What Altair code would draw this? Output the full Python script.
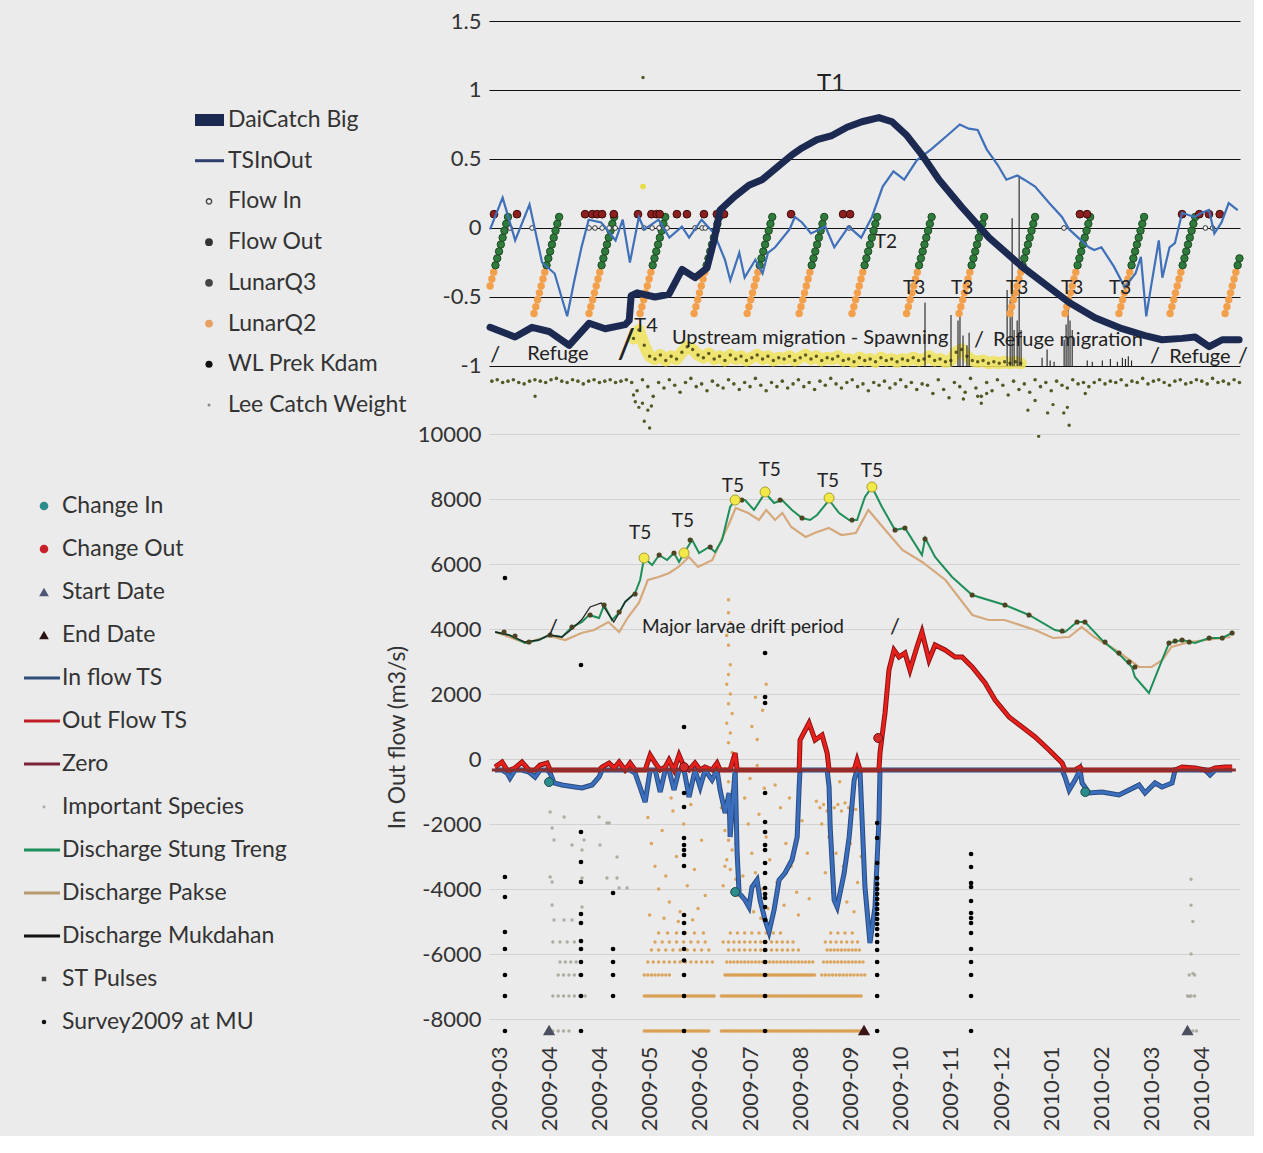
import altair as alt
import pandas as pd

# ---------------------------------------------------------------- data
# x positions are given in days counted from 2009-03-02
BASE = pd.Timestamp("2009-03-02")
tick_dates = ["2009-03-05", "2009-04-02", "2009-04-30", "2009-05-28", "2009-06-25",
              "2009-07-23", "2009-08-20", "2009-09-17", "2009-10-15", "2009-11-12",
              "2009-12-10", "2010-01-07", "2010-02-04", "2010-03-04", "2010-04-01"]
x_domain_days = [-2.6, 416.3]
top_y_ticks = [-1, -0.5, 0, 0.5, 1, 1.5]
top_y_domain = [-1.464, 1.5]
bot_y_ticks = [-8000, -6000, -4000, -2000, 0, 2000, 4000, 6000, 8000, 10000]
bot_y_domain = [-8646, 10000]

# ---- top panel series
dai_days = [-2.0, 11.9, 21.4, 30.9, 42.1, 53.3, 62.2, 73.4, 75.6, 76.7, 80.0, 90.0, 97.8, 105.1, 112.3,
            119.0, 122.9, 126.3, 134.6, 142.4, 149.7, 158.1, 166.4, 172.0, 180.4, 188.7, 197.1, 205.4,
            214.9, 222.2, 230.5, 238.9, 248.4, 261.2, 276.3, 294.7, 309.8, 321.0, 335.4, 350.5, 363.3,
            372.8, 384.0, 391.2, 399.1, 406.4, 415.8]
dai_vals = [-0.72, -0.79, -0.72, -0.75, -0.85, -0.69, -0.73, -0.70, -0.67, -0.49, -0.47, -0.50, -0.48,
            -0.30, -0.36, -0.29, -0.09, 0.13, 0.23, 0.31, 0.35, 0.44, 0.53, 0.58, 0.64, 0.67, 0.73, 0.77,
            0.80, 0.77, 0.67, 0.53, 0.35, 0.15, -0.07, -0.28, -0.43, -0.54, -0.65, -0.73, -0.78, -0.81,
            -0.80, -0.79, -0.86, -0.81, -0.81]

ts_days = [-2, 5, 12, 20, 27, 34, 41, 45, 49, 53, 60, 68, 72, 76, 81, 84, 92, 98, 105, 109, 116, 123,
           129, 132, 137, 140, 146, 150, 153, 157, 165, 168, 172, 177, 185, 190, 198, 205, 211, 217, 223,
           229, 236, 244, 253, 260, 265, 270, 275, 281, 286, 292, 296, 302, 310, 317, 321, 326, 332, 335,
           339, 346, 352, 358, 361, 364, 367, 371, 373, 377, 380, 384, 391, 395, 399, 402, 406, 410, 415]
ts_vals = [-0.01, 0.22, -0.09, 0.17, -0.25, -0.33, -0.64, -0.38, -0.14, 0.06, 0.04, -0.09, 0.06, -0.25,
           0.08, -0.01, 0.06, -0.07, 0.01, -0.07, 0.06, -0.04, -0.23, -0.38, -0.18, -0.36, -0.23, -0.33,
           -0.18, -0.14, -0.01, 0.08, 0.04, -0.04, 0.01, -0.14, 0.01, -0.07, 0.08, 0.30, 0.41, 0.35, 0.49,
           0.57, 0.67, 0.75, 0.72, 0.71, 0.57, 0.46, 0.35, 0.38, 0.35, 0.30, 0.18, 0.08, -0.01, -0.07,
           -0.14, -0.16, -0.14, -0.28, -0.43, -0.33, -0.21, -0.64, -0.40, -0.09, -0.36, -0.14, -0.11, 0.11,
           0.08, 0.11, 0.13, -0.04, 0.04, 0.18, 0.13]

flow_in_days = [9.2, 21.4, 53.2, 56.5, 60.5, 64.4, 67.8, 83.9, 88.4, 92.3, 96.7, 112.3, 116.3, 118.0,
                198.3, 318.1, 397.0, 401.0]
flow_in_vals = [0.0, 0.0, 0.0, 0.0, 0.0, 0.0, 0.0, 0.0, 0.0, 0.0, 0.0, 0.0, 0.0, 0.0, 0.0, 0.0, 0.0, 0.0]

flow_out_days = [0.2, 13.0, 51.0, 55.0, 57.7, 60.5, 67.0, 80.5, 88.0, 90.9, 92.6, 102.2, 107.8, 117.3,
                 124.5, 128.5, 165.9, 194.9, 198.8, 327.0, 331.0, 384.0, 393.6, 399.0, 405.0]
flow_out_vals = [0.10, 0.10, 0.10, 0.10, 0.10, 0.10, 0.10, 0.10, 0.10, 0.10, 0.10, 0.10, 0.10, 0.10,
                 0.10, 0.10, 0.10, 0.10, 0.10, 0.10, 0.10, 0.10, 0.10, 0.10, 0.10]

# lunar quarters: first day of each rising chain, and the values read along one chain
lunar_chain_start = [-6.0, 22.5, 53.2, 81.7, 111.8, 141.4, 170.4, 199.9, 230.3, 259.6, 288.0, 318.7,
                     348.8, 377.3, 408.0]
lunar_q2_chain = [-0.62, -0.57, -0.52, -0.47, -0.42, -0.37, -0.32]
lunar_q3_chain = [-0.27, -0.22, -0.17, -0.12, -0.07, -0.02, 0.03, 0.08]

lee_days = list(range(78, 295, 3))
lee_vals = [-0.80, -0.74, -0.85, -0.93, -0.95, -0.92, -0.96, -0.93, -0.95, -0.90,
            -0.86, -0.88, -0.92, -0.94, -0.91, -0.95, -0.93, -0.96, -0.92, -0.95,
            -0.93, -0.96, -0.94, -0.92, -0.95, -0.93, -0.96, -0.94, -0.95, -0.93,
            -0.96, -0.94, -0.92, -0.95, -0.93, -0.96, -0.94, -0.95, -0.93, -0.96,
            -0.95, -0.97, -0.94, -0.96, -0.95, -0.97, -0.94, -0.96, -0.95, -0.97,
            -0.95, -0.96, -0.94, -0.96, -0.95, -0.93, -0.96, -0.95, -0.97, -0.96,
            -0.90, -0.88, -0.93, -0.96, -0.97, -0.96, -0.98, -0.97, -0.98, -0.97,
            -0.98, -0.97, -0.98]

wl_days = list(range(-1, 417, 3))
wl_vals = [-1.11, -1.10, -1.12, -1.11, -1.10, -1.12, -1.13, -1.11, -1.10, -1.11, -1.12, -1.10, -1.09,
           -1.11, -1.12, -1.10, -1.11, -1.13, -1.11, -1.10, -1.12, -1.11, -1.10, -1.12, -1.11, -1.10,
           -1.12, -1.18, -1.10, -1.15, -1.22, -1.12, -1.16, -1.10, -1.14, -1.19, -1.12, -1.09, -1.15,
           -1.13, -1.18, -1.11, -1.14, -1.16, -1.10, -1.13, -1.17, -1.12, -1.15, -1.09, -1.14, -1.18,
           -1.12, -1.15, -1.11, -1.16, -1.13, -1.10, -1.15, -1.12, -1.17, -1.11, -1.14, -1.09, -1.13,
           -1.16, -1.12, -1.10, -1.15, -1.13, -1.18, -1.12, -1.14, -1.11, -1.16, -1.13, -1.10, -1.15,
           -1.12, -1.17, -1.13,
           -1.14, -1.20, -1.10, -1.17, -1.23, -1.12, -1.15, -1.19, -1.09, -1.16, -1.22, -1.12, -1.18,
           -1.10, -1.14, -1.21, -1.11, -1.17, -1.13, -1.19, -1.10, -1.15, -1.12, -1.18, -1.11, -1.14,
           -1.16, -1.10, -1.13, -1.12, -1.15,
           -1.12, -1.10, -1.13, -1.11, -1.12, -1.10, -1.14, -1.11, -1.12, -1.09, -1.13, -1.11, -1.10,
           -1.12, -1.14, -1.11, -1.10, -1.13, -1.12, -1.10, -1.11, -1.13, -1.09, -1.12, -1.11, -1.13,
           -1.10, -1.12]
wl_extra_days = [23.1, 78, 79, 81, 83, 86, 88, 84, 87, 262, 270, 272, 275, 298, 302, 309, 312, 318, 320,
                 304, 321, 330, 83.3]
wl_extra_vals = [-1.22, -1.21, -1.26, -1.30, -1.27, -1.32, -1.29, -1.40, -1.45, -1.24, -1.22, -1.27,
                 -1.20, -1.32, -1.25, -1.34, -1.28, -1.34, -1.30, -1.51, -1.43, -1.20, 1.09]
lee_extra_days = [83.3]
lee_extra_vals = [0.30]

spike_days = [240.6, 255.1, 259.0, 260.1, 261.8, 264.0, 265.2, 286.4, 288.1, 289.2, 290.3, 292.0, 293.1,
              294.2, 305.9, 308.7, 310.4, 312.6, 318.2, 319.3, 320.4, 321.5, 322.7, 331.1, 333.9, 339.5,
              344.0, 347.9, 350.7, 352.4, 354.0, 355.8]
spike_tops = [-0.54, -0.63, -0.67, -0.63, -0.78, -0.85, -0.76, -0.45, -0.52, 0.07, -0.74, -0.67, 0.38,
              -0.74, -0.94, -0.88, -0.96, -0.97, -0.81, -0.70, -0.59, -0.67, -0.74, -0.96, -0.97, -0.96,
              -0.95, -0.97, -0.94, -0.95, -0.93, -0.96]
spike_base = -1.0

top_text = ["T1", "T2", "T3", "T3", "T3", "T3", "T3", "T4", "Refuge", "Upstream migration - Spawning",
            "Refuge migration", "Refuge", "/", "/", "/", "/", "/"]
top_text_days = [188.2, 218.8, 234.5, 261.3, 292.0, 322.7, 349.5, 85.0, 35.9, 176.5, 320.3, 394.0,
                 0.8, 270.7, 368.9, 418.0, 74.0]
top_text_vals = [1.043, -0.10, -0.435, -0.435, -0.435, -0.435, -0.435, -0.71, -0.913, -0.797, -0.81,
                 -0.935, -0.92, -0.81, -0.93, -0.93, -0.855]
top_text_size = [24, 19, 19, 19, 19, 19, 19, 20, 20, 20, 20, 20, 22, 22, 22, 22, 40]

# ---- bottom panel series
stung_days = [0.8, 8.6, 17.5, 25.3, 30.9, 38.1, 43.7, 49.3, 53.2, 58.8, 61.6, 66.0, 69.9, 73.3, 78.9,
              81.7, 83.9, 88.4, 92.3, 96.7, 100.6, 103.4, 106.2, 110.7, 114.6, 120.2, 123.5, 127.4, 131.9,
              134.7, 140.2, 145.2, 151.4, 156.4, 160.8, 166.4, 172.0, 176.5, 180.4, 187.1, 192.7, 198.3,
              202.7, 207.1, 211.0, 216.6, 223.9, 229.4, 238.9, 240.7, 246.2, 255.7, 266.9, 285.2, 298.6,
              313.1, 318.7, 325.4, 329.8, 339.3, 350.5, 356.0, 357.7, 365.5, 372.8, 376.7, 384.0, 391.2,
              399.1, 406.4, 411.9]
stung_vals = [3908, 3815, 3569, 3662, 3815, 3754, 4062, 4215, 4431, 4338, 4738, 4277, 4492, 4831, 5108,
              5508, 6185, 5969, 6277, 6123, 6338, 6062, 6338, 6738, 6338, 6523, 6369, 6738, 7754, 7969,
              7969, 7662, 8185, 7877, 7969, 7662, 7415, 7354, 7508, 7969, 7569, 7354, 7354, 8062, 8369,
              7754, 7046, 7108, 6277, 6800, 6215, 5600, 5046, 4738, 4431, 3969, 3908, 4215, 4215, 3662,
              3138, 2831, 2523, 2031, 3046, 3569, 3662, 3569, 3723, 3723, 3877]

pakse_days = [1, 18, 31, 40, 49, 56, 64, 70, 75, 81, 86, 92, 98, 103, 109, 114, 122, 127, 131, 135, 142,
              148, 152, 157, 161, 166, 174, 179, 187, 194, 202, 209, 217, 228, 239, 252, 267, 276, 285,
              302, 312, 321, 328, 335, 347, 360, 367, 373, 378, 388, 411]
pakse_vals = [3908, 3569, 3785, 3662, 3877, 3969, 4215, 3908, 4369, 4800, 5508, 5600, 5723, 5908, 6215,
              5908, 6123, 6738, 7200, 7723, 7569, 7354, 7662, 7354, 7569, 7138, 6831, 6954, 7108, 6892,
              6954, 7662, 7138, 6431, 6062, 5508, 4431, 4277, 4277, 3969, 3723, 3754, 4062, 3754, 3354,
              2831, 2831, 3046, 3446, 3600, 3754]

muk_days = [0.8, 8.6, 17.5, 25.3, 30.9, 38.1, 43.7, 49.3, 53.8, 60.0, 63.0, 67.0, 70.0, 73.3, 78.9]
muk_vals = [3908, 3815, 3600, 3662, 3815, 3754, 4000, 4300, 4677, 4800, 4550, 4215, 4492, 4831, 5108]

pulse_days = [5.8, 11.9, 19.7, 31.5, 43.7, 53.8, 61.6, 70.0, 78.9, 92.3, 100.6, 109.6, 120.8, 138.4,
              159.8, 172.0, 199.9, 223.9, 229.4, 240.6, 266.9, 285.2, 298.6, 317.1, 325.4, 329.8, 341.0,
              348.8, 354.4, 357.7, 376.7, 380.1, 384.0, 388.0, 399.1, 406.4, 411.9]
pulse_vals = [3908, 3785, 3600, 3815, 4062, 4431, 4738, 4523, 5077, 6277, 6338, 6738, 6523, 7969, 7969,
              7415, 7354, 7046, 7108, 6769, 5046, 4738, 4431, 3938, 4215, 4215, 3600, 3262, 2985, 2831,
              3569, 3631, 3662, 3600, 3723, 3723, 3877]

t5_days = [83.9, 106.2, 134.7, 151.4, 187.1, 211.0]
t5_vals = [6185, 6338, 7969, 8215, 8031, 8369]

net_days = [0.8, 4.7, 7.5, 9.1, 11.9, 15.8, 19.7, 23.1, 25.9, 29.8, 31.5, 33.7, 38.1, 45.4, 49.3, 54.9,
            58.8, 60.5, 64.4, 67.2, 70.0, 73.3, 76.1, 78.9, 84.5, 87.3, 90.1, 92.9, 95.7, 97.8, 100.6,
            103.4, 106.2, 109.0, 112.3, 115.2, 117.9, 121.8, 124.6, 126.3, 129.1, 131.3, 131.9, 134.7,
            135.8, 136.9, 140.2, 142.4, 144.1, 146.9, 148.6, 151.4, 153.6, 156.4, 159.2, 162.5, 166.4,
            169.3, 170.4, 170.9, 175.9, 179.3, 183.2, 186.0, 187.1, 187.7, 189.9, 191.6, 195.5, 198.3,
            201.1, 202.7, 204.4, 207.1, 209.9, 212.7, 214.9, 215.5, 216.6, 218.3, 220.5, 223.3, 226.1,
            229.4, 232.2, 236.1, 238.9, 242.8, 246.2, 251.8, 257.4, 261.3, 266.9, 274.1, 279.7, 287.5,
            294.8, 302.0, 309.8, 317.1, 318.7, 321.0, 324.3, 327.1, 328.2, 332.1, 339.3, 348.8, 354.4,
            360.0, 363.3, 368.9, 372.8, 378.4, 380.1, 384.0, 391.2, 396.8, 399.6, 402.4, 408.0, 411.9]
net_vals = [-246, -92, -431, -585, -277, -92, -400, -554, -185, -123, -431, -738, -800, -862, -892, -800,
            -554, -246, -123, -277, -92, -338, -123, -431, -1323, 123, -123, -1015, -246, -31, -954, 123,
            -246, -1169, -123, -862, -246, -646, -123, -954, -1662, -1046, -2400, 185, -2892, -4123,
            -4338, -4554, -3938, -3723, -4338, -4954, -5323, -4646, -3723, -3508, -3108, -2400, -862,
            585, 1108, 585, 738, 185, -862, -2092, -4338, -4554, -3508, -2400, -646, -31, -431, -3938,
            -5662, -4554, -1877, 185, 677, 1415, 2738, 3354, 3138, 3262, 2738, 3446, 3908, 3046, 3508,
            3354, 3138, 3138, 2831, 2338, 1815, 1292, 985, 677, 277, -123, -554, -954, -646, -246, -738,
            -1046, -1015, -1108, -954, -800, -1046, -738, -862, -738, -338, -246, -277, -338, -492, -277,
            -246, -246]
zero_level = -338
zero_days = [-1.0, 414.0]

change_in_days = [30.9, 134.7, 330.0]
change_in_vals = [-708, -4092, -1015]
change_out_days = [106.2, 214.5]
change_out_vals = [-246, 646]
start_days = [30.9, 387.0]
start_vals = [-8338, -8338]
end_days = [206.6]
end_vals = [-8338]

survey_col_days = [6.3, 48.7, 66.6, 106.2, 151.4, 213.9, 266.3]
survey_col_vals = [
    [5569, -3631, -4246, -5323, -5846, -6646, -7292, -8369],
    [2892, -2246, -3169, -3785, -4769, -5046, -5600, -5846, -6246, -6646, -7292, -8369],
    [-4123, -5846, -6246, -6646, -7292],
    [985, -1046, -1477, -2431, -2646, -2800, -2954, -3292, -4800, -5046, -5354, -5846, -6200, -6646,
     -7292, -8369],
    [3262, 1908, 1723, -1046, -1938, -2246, -2646, -2800, -3200, -3508, -3969, -4154, -4277, -4554,
     -4954, -5631, -5877, -6246, -6646, -7292, -8369],
    [-1969, -2431, -3200, -3661, -3846, -4000, -4154, -4308, -4462, -4615, -4769, -4923, -5077, -5231,
     -5415, -5631, -5877, -6246, -6646, -7292, -8369],
    [-2923, -3323, -3815, -3938, -4369, -4738, -4892, -5046, -5354, -5846, -6246, -6646, -7292, -8369]]

# important species: horizontal runs of dots (level, first day, last day, day step) + scattered dots
imp_run_vals = [-8369, -8369, -7292, -7292, -6646, -6646, -6646, -6246, -6246, -6246, -5877, -5877,
                -5877, -5631, -5631, -5631, -5354, -5354, -5354, -8369, -7292, -6646, -6246, -5631,
                -8369, -7292, -6646]
imp_run_start = [84, 127, 84, 127, 84, 129, 183, 86, 130, 184, 88, 131, 186, 90, 128, 185, 92, 132, 188,
                 33, 33, 36, 37, 33, 388, 387, 388]
imp_run_end = [120, 205, 123, 205, 98, 179, 207, 124, 178, 206, 122, 170, 205, 120, 168, 204, 118, 160,
               202, 42, 53, 49, 47, 50, 392, 392, 391]
imp_run_step = [1, 1, 1, 1, 2, 1, 2, 3, 2, 2, 4, 3, 2, 4, 3, 3, 5, 4, 4, 3, 3, 3, 3, 4, 2, 2, 3]
imp_days = [31.5, 32.6, 33.7, 39.3, 43.7, 49.3, 50.4, 58.8, 59.3, 63.2, 64.4, 68.8, 70.0, 74.4, 31.5,
            32.6, 49.3, 63.2, 68.8, 32.6, 49.3, 33.7, 39.3, 43.7,
            86, 88, 90, 92, 94, 96, 98, 100, 102, 104, 106, 108, 110, 112, 114, 116, 118, 87, 95, 103, 111,
            99,
            131, 131, 132, 130, 131, 132, 131, 130, 132, 131, 133, 130, 132, 131, 133, 129, 131, 133, 130,
            132, 134, 129, 131, 133, 130, 132, 135, 128, 136, 134, 127, 135, 129,
            140, 142, 144, 146, 148, 150, 152, 154, 141, 145, 149, 153, 143, 147, 151, 139, 146, 150, 152,
            144, 147,
            157, 160, 163, 166, 169, 172, 175, 158, 162, 170, 176, 165,
            180, 182, 184, 186, 188, 190, 192, 194, 196, 198, 200, 202, 183, 187, 191, 195, 199, 203, 185,
            189, 197, 201, 205, 193, 200, 204,
            389, 389, 390, 389, 390, 388]
imp_vals = [-1630, -2120, -2490, -1785, -2646, -2800, -2490, -1785, -2646, -1970, -1970, -3015, -3970,
            -3970, -3630, -3785, -3662, -3662, -3662, -4492, -4554, -4954, -4954, -4954,
            -1800, -2600, -3300, -4000, -2200, -3600, -4400, -1600, -3000, -4700, -2000, -3900, -1400,
            -3400, -4600, -2500, -4200, -4800, -4900, -5000, -4950, -1200,
            4900, 4500, 4200, 3800, 3500, 2900, 2600, 2300, 2000, 1700, 1400, 1100, 800, 500, 200, -300,
            -700, -1000, -1300, -1600, -1900, -2200, -2500, -2800, -3100, -3400, -3700, -3900, -4200,
            -600, -1500, -2600, -3300,
            -1200, -2000, -2900, -3500, -1700, -4000, -2400, -3100, -4400, -4700, -4900, -4600, -600,
            -200, -900, -3600, 1900, 1500, 2300, 1000, 600,
            -800, -1500, -2600, -3300, -4100, -1900, -2900, -3800, -4500, -4800, -4300, -1200,
            -1300, -1500, -1400, -1600, -1300, -1500, -1400, -1600, -1350, -1500, -1450, -1550, -2000,
            -2400, -2900, -3300, -2600, -3800, -3500, -4100, -4400, -4700, -3000, -700, -300, -800,
            -3700, -4500, -5000, -6000, -6600, -7300]

bot_text = ["T5", "T5", "T5", "T5", "T5", "T5", "Major larvae drift period", "/", "/"]
bot_text_days = [81.7, 105.5, 133.4, 154.0, 186.5, 211.0, 139.1, 33.1, 223.9]
bot_text_vals = [6954, 7323, 8400, 8892, 8554, 8862, 4062, 4031, 4062]
bot_text_size = [19, 19, 19, 19, 19, 19, 19, 22, 22]

# ---- legends
top_legend = ["DaiCatch Big", "TSInOut", "Flow In", "Flow Out", "LunarQ3", "LunarQ2", "WL Prek Kdam",
              "Lee Catch Weight"]
top_legend_kind = ["bar", "line", "open", "dot", "dot", "dot", "dot", "dot"]
top_legend_color = ["#1c2a52", "#2f3f6f", "#444444", "#333333", "#454545", "#e8a060", "#111111", "#8a8a8a"]
top_legend_size = [0, 0, 28, 60, 60, 60, 50, 10]

bot_legend = ["Change In", "Change Out", "Start Date", "End Date", "In flow TS", "Out Flow TS", "Zero",
              "Important Species", "Discharge Stung Treng", "Discharge Pakse", "Discharge Mukdahan",
              "ST Pulses", "Survey2009 at MU"]
bot_legend_kind = ["dot", "dot", "tri", "tri", "line", "line", "line", "dot", "line", "line", "line",
                   "sq", "dot"]
bot_legend_color = ["#2c8c8c", "#c8202a", "#4a5577", "#2a1212", "#2f4f7a", "#c01f2a", "#7a2238",
                    "#a8a8a8", "#1f8f5a", "#b89a70", "#111111", "#444444", "#111111"]
bot_legend_size = [75, 75, 95, 95, 0, 0, 0, 8, 0, 0, 0, 20, 20]

# ---------------------------------------------------------------- helpers
FONT = "Lato"
W, H_TOP, H_BOT = 751, 409, 606
DAY_MS = 86400000
BASE_MS = BASE.value // 10**6


def ms(days):
    return [BASE_MS + d * DAY_MS for d in days]


def frame(days, vals):
    return pd.DataFrame({"t": ms(days), "v": vals})


xs = alt.Scale(type="utc", domain=ms(x_domain_days), nice=False)
tick_ms = [pd.Timestamp(d).value // 10**6 for d in tick_dates]

X_top = alt.X("t:T", scale=xs, axis=None)
X_bot = alt.X("t:T", scale=xs, title=None,
              axis=alt.Axis(values=tick_ms, format="%Y-%m", labelAngle=270, labelFontSize=22,
                            labelPadding=6, domain=False, ticks=False, grid=False, labelOverlap=False,
                            labelColor="#333"))
Y_top = alt.Y("v:Q", scale=alt.Scale(domain=top_y_domain, nice=False, zero=False), title=None,
              axis=alt.Axis(values=top_y_ticks, labelExpr="datum.value + ''", grid=True,
                            gridColor="#111", gridWidth=1.1, domain=False, ticks=False,
                            labelFontSize=22, labelPadding=8, labelColor="#333"))
Y_bot = alt.Y("v:Q", scale=alt.Scale(domain=bot_y_domain, nice=False, zero=False),
              title="In Out flow (m3/s)",
              axis=alt.Axis(values=bot_y_ticks, labelExpr="datum.value + ''", grid=True,
                            gridColor="#d2d2d2", gridWidth=1, domain=False, ticks=False,
                            labelFontSize=22, labelPadding=8, labelColor="#333", titleFontSize=23,
                            titleFontWeight="normal", titleColor="#333", titlePadding=8))


def legend_layers(labels, kinds, colors, sizes, y_lo, y_hi, x_sym, x_l0, x_l1, x_txt):
    df = pd.DataFrame({"label": labels, "kind": kinds, "color": colors, "size": sizes})
    ysc = alt.Y("label:N", scale=alt.Scale(type="point", domain=labels, range=[y_lo, y_hi], padding=0),
                axis=None)
    col = alt.Color("color:N", scale=None)
    base = alt.Chart(df)
    lines = base.transform_filter("datum.kind == 'line'").mark_rule(strokeWidth=3).encode(
        y=ysc, x=alt.value(x_l0), x2=alt.value(x_l1), color=col)
    bars = base.transform_filter("datum.kind == 'bar'").mark_rule(strokeWidth=12).encode(
        y=ysc, x=alt.value(x_l0), x2=alt.value(x_l1), color=col)
    dots = base.transform_filter("datum.kind == 'dot'").mark_point(filled=True, shape="circle",
                                                                    opacity=1).encode(
        y=ysc, x=alt.value(x_sym), color=col, size=alt.Size("size:Q", scale=None))
    sqs = base.transform_filter("datum.kind == 'sq'").mark_point(filled=True, shape="square",
                                                                  opacity=1).encode(
        y=ysc, x=alt.value(x_sym), color=col, size=alt.Size("size:Q", scale=None))
    tris = base.transform_filter("datum.kind == 'tri'").mark_point(filled=True, shape="triangle-up",
                                                                    opacity=1).encode(
        y=ysc, x=alt.value(x_sym), color=col, size=alt.Size("size:Q", scale=None))
    opens = base.transform_filter("datum.kind == 'open'").mark_point(filled=False, shape="circle",
                                                                      strokeWidth=1.4, opacity=1).encode(
        y=ysc, x=alt.value(x_sym), color=col, size=alt.Size("size:Q", scale=None))
    text = base.mark_text(align="left", baseline="middle", font=FONT, fontSize=23,
                          color="#333").encode(y=ysc, x=alt.value(x_txt), text="label:N")
    return alt.layer(lines, bars, dots, sqs, tris, opens, text)


def text_layer(labels, days, vals, sizes, X, Y):
    df = frame(days, vals)
    df["label"] = labels
    df["fs"] = sizes
    return alt.Chart(df).mark_text(font=FONT, color="#222", align="center", baseline="middle").encode(
        x=X, y=Y, text="label:N", size=alt.Size("fs:Q", scale=None))


# ---------------------------------------------------------------- top panel
lo, hi = x_domain_days
q2_rows, q3_rows = [], []
for c in lunar_chain_start:
    for i, v in enumerate(lunar_q2_chain):
        q2_rows.append((c + i, v))
    for i, v in enumerate(lunar_q3_chain):
        q3_rows.append((c + len(lunar_q2_chain) + i, v))
q2_rows = [r for r in q2_rows if lo <= r[0] <= hi]
q3_rows = [r for r in q3_rows if lo <= r[0] <= hi]
q2_df = frame([r[0] for r in q2_rows], [r[1] for r in q2_rows])
q3_df = frame([r[0] for r in q3_rows], [r[1] for r in q3_rows])

lee_df = frame(lee_days, lee_vals)
top_layers = [
    alt.Chart(lee_df).mark_line(color="#f0e35a", strokeWidth=12, opacity=0.85, strokeCap="round",
                                strokeJoin="round").encode(x=X_top, y=Y_top),
    alt.Chart(lee_df).mark_circle(color="#5d5a1e", size=12, opacity=1).encode(x=X_top, y=Y_top),
    alt.Chart(frame(lee_extra_days, lee_extra_vals)).mark_circle(color="#e8dc40", size=30,
                                                                  opacity=1).encode(x=X_top, y=Y_top),
    alt.Chart(frame(wl_days, wl_vals)).mark_circle(color="#4f5a24", size=13, opacity=1).encode(
        x=X_top, y=Y_top),
    alt.Chart(frame(wl_extra_days, wl_extra_vals)).mark_circle(color="#4f5a24", size=12,
                                                                opacity=1).encode(x=X_top, y=Y_top),
    alt.Chart(frame(spike_days, spike_tops)).mark_rule(color="#222", strokeWidth=1.1).encode(
        x=X_top, y=Y_top, y2=alt.datum(spike_base)),
    alt.Chart(q2_df).mark_circle(color="#f3a04c", size=55, opacity=1).encode(x=X_top, y=Y_top),
    alt.Chart(q3_df).mark_circle(fill="#2f7b3b", stroke="#1d4a24", strokeWidth=1, size=55,
                                 opacity=1).encode(x=X_top, y=Y_top),
    alt.Chart(frame(flow_in_days, flow_in_vals)).mark_circle(fill="#f2f2f2", stroke="#333",
                                                              strokeWidth=1, size=22,
                                                              opacity=1).encode(x=X_top, y=Y_top),
    alt.Chart(frame(flow_out_days, flow_out_vals)).mark_circle(fill="#8e1f1f", stroke="#3a0d0d",
                                                                strokeWidth=1, size=60,
                                                                opacity=1).encode(x=X_top, y=Y_top),
    alt.Chart(frame(ts_days, ts_vals)).mark_line(color="#3f70b8", strokeWidth=2.2).encode(
        x=X_top, y=Y_top),
    alt.Chart(frame(dai_days, dai_vals)).mark_line(color="#1c2a52", strokeWidth=7, strokeJoin="round",
                                                   strokeCap="round").encode(x=X_top, y=Y_top),
    text_layer(top_text, top_text_days, top_text_vals, top_text_size, X_top, Y_top),
]
top = alt.layer(
    alt.layer(*top_layers),
    legend_layers(top_legend, top_legend_kind, top_legend_color, top_legend_size,
                  99, 384, -280, -294, -265, -261),
).resolve_scale(y="independent").properties(width=W, height=H_TOP)

# ---------------------------------------------------------------- bottom panel
run_rows = []
for v, s, e, st in zip(imp_run_vals, imp_run_start, imp_run_end, imp_run_step):
    for d in range(s, e + 1, st):
        run_rows.append((d, v))
imp_all_days = [r[0] for r in run_rows] + imp_days
imp_all_vals = [r[1] for r in run_rows] + imp_vals
imp_df = frame(imp_all_days, imp_all_vals)
imp_df["col"] = ["#a9a59a" if (d < 76 or d > 380) else "#d99d4f" for d in imp_all_days]

net_df = frame(net_days, net_vals)
in_df = net_df.assign(v=net_df["v"].clip(upper=zero_level))
out_df = net_df.assign(v=net_df["v"].clip(lower=zero_level))

sv_days, sv_vals = [], []
for d, vals in zip(survey_col_days, survey_col_vals):
    for v in vals:
        sv_days.append(d)
        sv_vals.append(v)

bot_layers = [
    alt.Chart(imp_df).mark_circle(size=12, opacity=0.9).encode(
        x=X_bot, y=Y_bot, color=alt.Color("col:N", scale=None)),
    alt.Chart(frame(pakse_days, pakse_vals)).mark_line(color="#d6a97c", strokeWidth=2.2).encode(
        x=X_bot, y=Y_bot),
    alt.Chart(frame(stung_days, stung_vals)).mark_line(color="#1f8f5a", strokeWidth=2).encode(
        x=X_bot, y=Y_bot),
    alt.Chart(frame(muk_days, muk_vals)).mark_line(color="#222", strokeWidth=1.3).encode(
        x=X_bot, y=Y_bot),
    alt.Chart(frame(pulse_days, pulse_vals)).mark_circle(color="#4d4422", size=26, opacity=1).encode(
        x=X_bot, y=Y_bot),
    alt.Chart(frame(t5_days, t5_vals)).mark_circle(fill="#f3e84a", stroke="#a9a030", strokeWidth=1,
                                                   size=100, opacity=1).encode(x=X_bot, y=Y_bot),
    alt.Chart(in_df).mark_line(color="#2b4c80", strokeWidth=5).encode(x=X_bot, y=Y_bot),
    alt.Chart(in_df).mark_line(color="#3b6fbd", strokeWidth=3).encode(x=X_bot, y=Y_bot),
    alt.Chart(out_df).mark_line(color="#8a1414", strokeWidth=5).encode(x=X_bot, y=Y_bot),
    alt.Chart(out_df).mark_line(color="#e8201c", strokeWidth=3).encode(x=X_bot, y=Y_bot),
    alt.Chart(frame(zero_days, [zero_level, zero_level])).mark_line(color="#8c2f2f",
                                                                    strokeWidth=3).encode(
        x=X_bot, y=Y_bot),
    alt.Chart(frame(sv_days, sv_vals)).mark_circle(color="#000", size=22, opacity=1).encode(
        x=X_bot, y=Y_bot),
    alt.Chart(frame(change_in_days, change_in_vals)).mark_circle(fill="#2c8c8c", stroke="#1a4d4d",
                                                                  strokeWidth=1, size=80,
                                                                  opacity=1).encode(x=X_bot, y=Y_bot),
    alt.Chart(frame(change_out_days, change_out_vals)).mark_circle(fill="#d42a2a", stroke="#701010",
                                                                    strokeWidth=1, size=80,
                                                                    opacity=1).encode(x=X_bot, y=Y_bot),
    alt.Chart(frame(start_days, start_vals)).mark_point(shape="triangle-up", filled=True,
                                                        color="#4a5060", size=150,
                                                        opacity=1).encode(x=X_bot, y=Y_bot),
    alt.Chart(frame(end_days, end_vals)).mark_point(shape="triangle-up", filled=True, color="#3a1515",
                                                    size=150, opacity=1).encode(x=X_bot, y=Y_bot),
    text_layer(bot_text, bot_text_days, bot_text_vals, bot_text_size, X_bot, Y_bot),
]
bottom = alt.layer(
    alt.layer(*bot_layers),
    legend_layers(bot_legend, bot_legend_kind, bot_legend_color, bot_legend_size,
                  72, 588, -445, -465, -429, -427),
).resolve_scale(y="independent").properties(width=W, height=H_BOT)

chart = alt.vconcat(top, bottom, spacing=4, bounds="flush").properties(
    background="#ebebeb",
    padding={"left": 22, "top": 10, "right": 5, "bottom": 5},
).configure_view(stroke=None).configure_axis(labelFont=FONT, titleFont=FONT)

chart.save("out.html", embed_options={"renderer": "svg", "actions": False})
